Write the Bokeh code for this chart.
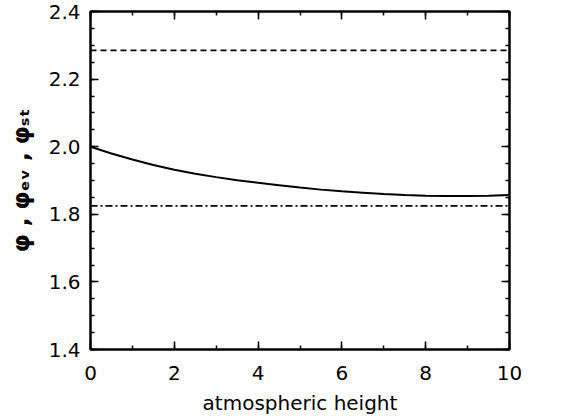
from bokeh.plotting import figure
from bokeh.models import LinearAxis, Range1d, FixedTicker, CustomLabelingPolicy, NumeralTickFormatter
from bokeh.embed import file_html
from bokeh.resources import INLINE

# data
height = [0, 0.5, 1, 1.5, 2, 2.5, 3, 3.5, 4, 4.5, 5, 5.5, 6, 6.5, 7, 7.5, 8, 8.5, 9, 9.5, 10]
phi = [2.000, 1.980, 1.962, 1.946, 1.932, 1.920, 1.910, 1.901, 1.893, 1.886, 1.879,
       1.873, 1.868, 1.864, 1.860, 1.857, 1.855, 1.854, 1.854, 1.855, 1.857]
phi_ev = [2.285, 2.285]
phi_st = [1.825, 1.825]
ends = [0, 10]
x_ticks = [0, 2, 4, 6, 8, 10]
x_minor = [0, 1, 2, 3, 4, 5, 6, 7, 8, 9, 10]
y_ticks = [1.4, 1.6, 1.8, 2.0, 2.2, 2.4]
y_minor = [1.4, 1.45, 1.5, 1.55, 1.6, 1.65, 1.7, 1.75, 1.8, 1.85, 1.9, 1.95,
           2.0, 2.05, 2.1, 2.15, 2.2, 2.25, 2.3, 2.35, 2.4]

FONT = "DejaVu Sans"

p = figure(width=586, height=417, output_backend="svg", toolbar_location=None,
           x_range=Range1d(0, 10), y_range=Range1d(1.4, 2.4),
           min_border_left=90, min_border_right=77, min_border_top=8, min_border_bottom=0)
p.grid.visible = False
p.outline_line_color = "black"
p.outline_line_width = 2

p.line(height, phi, line_color="black", line_width=2)
p.line(ends, phi_ev, line_color="black", line_width=1.6, line_dash="6 4")
p.line(ends, phi_st, line_color="black", line_width=1.6, line_dash="7 3 2 3")

no_labels = "for (const i of indices) { indices.unset(i) } return indices"

def style(ax, labels=True):
    ax.axis_line_width = 2
    ax.major_tick_in = 8
    ax.major_tick_out = 0
    ax.minor_tick_in = 4
    ax.minor_tick_out = 0
    ax.major_tick_line_width = 1.5
    ax.minor_tick_line_width = 1.5
    if labels:
        ax.major_label_text_font = FONT
        ax.major_label_text_font_size = "20px"
        ax.major_label_text_color = "black"
    else:
        ax.major_label_policy = CustomLabelingPolicy(code=no_labels)
        ax.major_label_standoff = 0

xa = p.xaxis[0]
ya = p.yaxis[0]
xa.ticker = FixedTicker(ticks=x_ticks, minor_ticks=x_minor)
ya.ticker = FixedTicker(ticks=y_ticks, minor_ticks=y_minor)
ya.formatter = NumeralTickFormatter(format="0.0")
style(xa)
style(ya)
xa.major_label_standoff = 16
ya.major_label_standoff = 10
xa.axis_label = "atmospheric height"
xa.axis_label_text_font = FONT
xa.axis_label_text_font_size = "20px"
xa.axis_label_text_font_style = "normal"
xa.axis_label_text_color = "black"
xa.axis_label_standoff = 8
ya.axis_label = "\u03c6 , \u03c6\u2091\u1d65 , \u03c6\u209b\u209c"
ya.axis_label_text_font = FONT
ya.axis_label_text_font_size = "23px"
ya.axis_label_text_font_style = "bold"
ya.axis_label_text_color = "black"
ya.axis_label_standoff = 12

top = LinearAxis(ticker=FixedTicker(ticks=x_ticks, minor_ticks=x_minor))
right = LinearAxis(ticker=FixedTicker(ticks=y_ticks, minor_ticks=y_minor))
style(top, labels=False)
style(right, labels=False)
p.add_layout(top, "above")
p.add_layout(right, "right")

open("out.html", "w").write(file_html(p, INLINE))
